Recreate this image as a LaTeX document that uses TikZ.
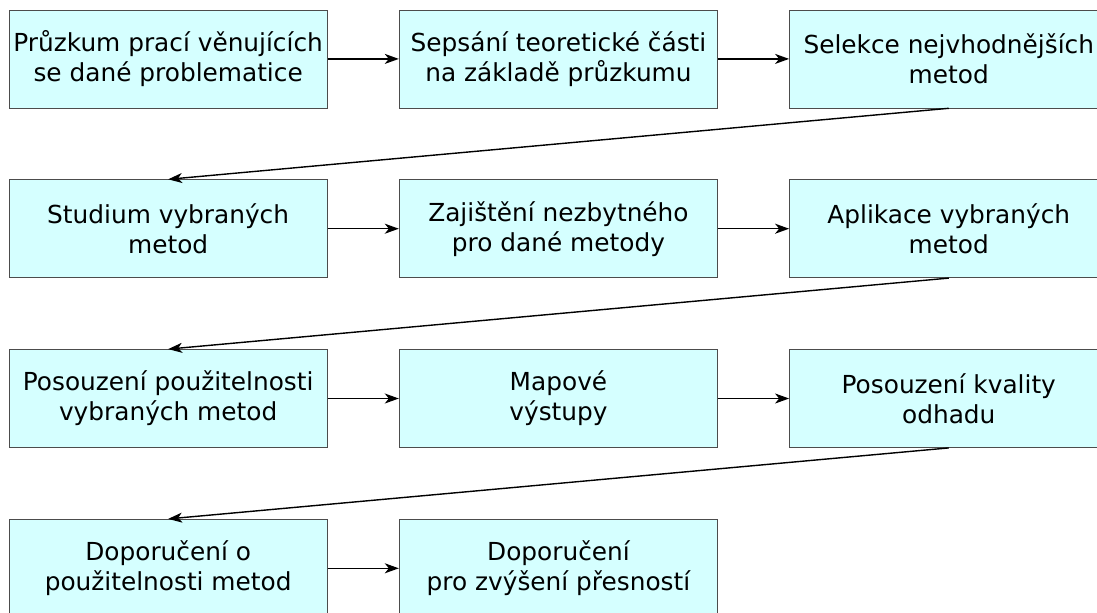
\documentclass[tikz,border=0pt]{standalone}
\usepackage{fontspec}
\setmainfont{DejaVu Sans}
\usetikzlibrary{positioning, arrows.meta}
\usepackage{xcolor}
\definecolor{mcyan}{RGB}{213,255,255}

\begin{document}
\begin{tikzpicture}[stepbox/.style={draw=black!70, fill=mcyan, minimum width=159.25pt, minimum height=49pt,
                      inner sep=0pt, align=center, font=\fontsize{12.4}{15}\selectfont},
    arrow/.style={-{Stealth[length=7pt, width=5pt, inset=2pt]}, line width=0.7pt},
    node distance=35.5pt and 35.5pt,
]
\useasboundingbox (0,0) rectangle (548.5pt,-306pt);

\node[stepbox, anchor=north west] (pruzkum) at (4.25pt,-4.75pt) {Průzkum prací věnujících\\se dané problematice};
\node[stepbox, right=of pruzkum] (sepsani) {Sepsání teoretické části\\na základě průzkumu};
\node[stepbox, right=of sepsani] (selekce) {Selekce nejvhodnějších\\metod};

\node[stepbox, below=of pruzkum] (studium) {Studium vybraných\\metod};
\node[stepbox, right=of studium] (zajisteni) {Zajištění nezbytného\\pro dané metody};
\node[stepbox, right=of zajisteni] (aplikace) {Aplikace vybraných\\metod};

\node[stepbox, below=of studium] (posouzeni) {Posouzení použitelnosti\\vybraných metod};
\node[stepbox, right=of posouzeni] (mapove) {Mapové\\výstupy};
\node[stepbox, right=of mapove] (kvalita) {Posouzení kvality\\odhadu};

\node[stepbox, below=of posouzeni] (doporuceni) {Doporučení o\\použitelnosti metod};
\node[stepbox, right=of doporuceni] (presnost) {Doporučení\\pro zvýšení přesností};

\draw[arrow] (pruzkum) -- (sepsani);
\draw[arrow] (sepsani) -- (selekce);
\draw[arrow] (selekce.south) -- (studium.north);
\draw[arrow] (studium) -- (zajisteni);
\draw[arrow] (zajisteni) -- (aplikace);
\draw[arrow] (aplikace.south) -- (posouzeni.north);
\draw[arrow] (posouzeni) -- (mapove);
\draw[arrow] (mapove) -- (kvalita);
\draw[arrow] (kvalita.south) -- (doporuceni.north);
\draw[arrow] (doporuceni) -- (presnost);

\end{tikzpicture}
\end{document}
